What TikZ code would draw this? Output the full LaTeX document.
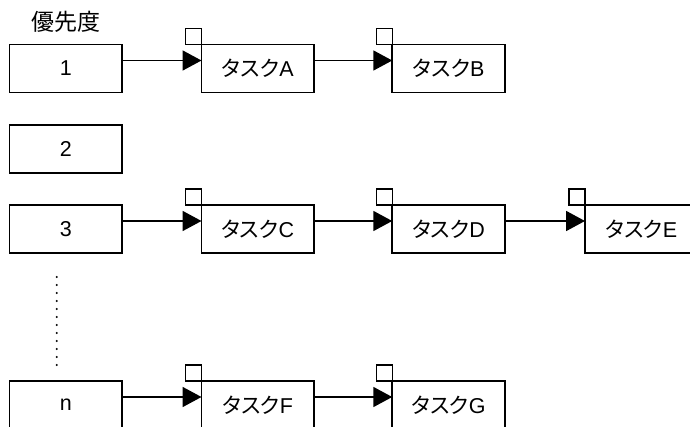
\documentclass[tikz,border=0pt]{standalone}
\usepackage{fontspec}
\setmainfont{Liberation Sans}
\newfontfamily\jp[RawFeature={+palt}]{Noto Sans CJK JP}
\usetikzlibrary{arrows.meta,calc}
\tikzset{
  box/.style={draw, line width=1.8pt, minimum width=112.5pt, minimum height=48pt, inner sep=0pt, outer sep=0pt,
    font=\fontsize{21.5}{25}\selectfont},
  sq/.style={draw, line width=1.5pt, minimum width=16pt, minimum height=16pt, inner sep=0pt, outer sep=0pt, anchor=south east},
  link/.style={line width=1.8pt, -{Triangle[length=19pt,width=20pt]}},
  lbl/.style={font=\fontsize{23}{27}\selectfont}
}
\newcommand{\tk}[1]{{\jp タスク}#1}
\begin{document}
\begin{tikzpicture}[x=1pt,y=-1pt]
\clip (0,0) rectangle (690,427);
\fill[white] (0,0) rectangle (690,427);
\node[lbl] (title) at (66,22) {\jp 優先度};
% priority boxes
\node[box] (p1) at (65.75,68.5) {1};
\node[box] (p2) at (65.75,149) {2};
\node[box] (p3) at (65.75,229) {3};
\node[box] (pn) at (65.75,405) {n};
% tasks
\node[box] (ta) at (257.75,68.5) {\tk{A}};
\node[box] (tb) at (448.5,68.5) {\tk{B}};
\node[box] (tc) at (257.75,229) {\tk{C}};
\node[box] (td) at (448.5,229) {\tk{D}};
\node[box] (te) at (641.25,229) {\tk{E}};
\node[box] (tf) at (257.75,405) {\tk{F}};
\node[box] (tg) at (448.5,405) {\tk{G}};
\foreach \t in {ta,tb,tc,td,te,tf,tg}{
  \node[sq] (s\t) at (\t.north west) {};
}
% links
\draw[link] ([yshift=-16pt]p1.north east) -- ([yshift=-16pt]ta.north west);
\draw[link] ([yshift=-16pt]ta.north east) -- ([yshift=-16pt]tb.north west);
\draw[link] ([yshift=-16pt]p3.north east) -- ([yshift=-16pt]tc.north west);
\draw[link] ([yshift=-16pt]tc.north east) -- ([yshift=-16pt]td.north west);
\draw[link] ([yshift=-16pt]td.north east) -- ([yshift=-16pt]te.north west);
\draw[link] ([yshift=-16pt]pn.north east) -- ([yshift=-16pt]tf.north west);
\draw[link] ([yshift=-16pt]tf.north east) -- ([yshift=-16pt]tg.north west);
% dots
\coordinate (d1) at (56.7,277);
\coordinate (d2) at (56.7,366);
\draw[line width=2.2pt, line cap=round, dash pattern=on 0pt off 8pt] (d1) -- (d2);
\end{tikzpicture}
\end{document}
